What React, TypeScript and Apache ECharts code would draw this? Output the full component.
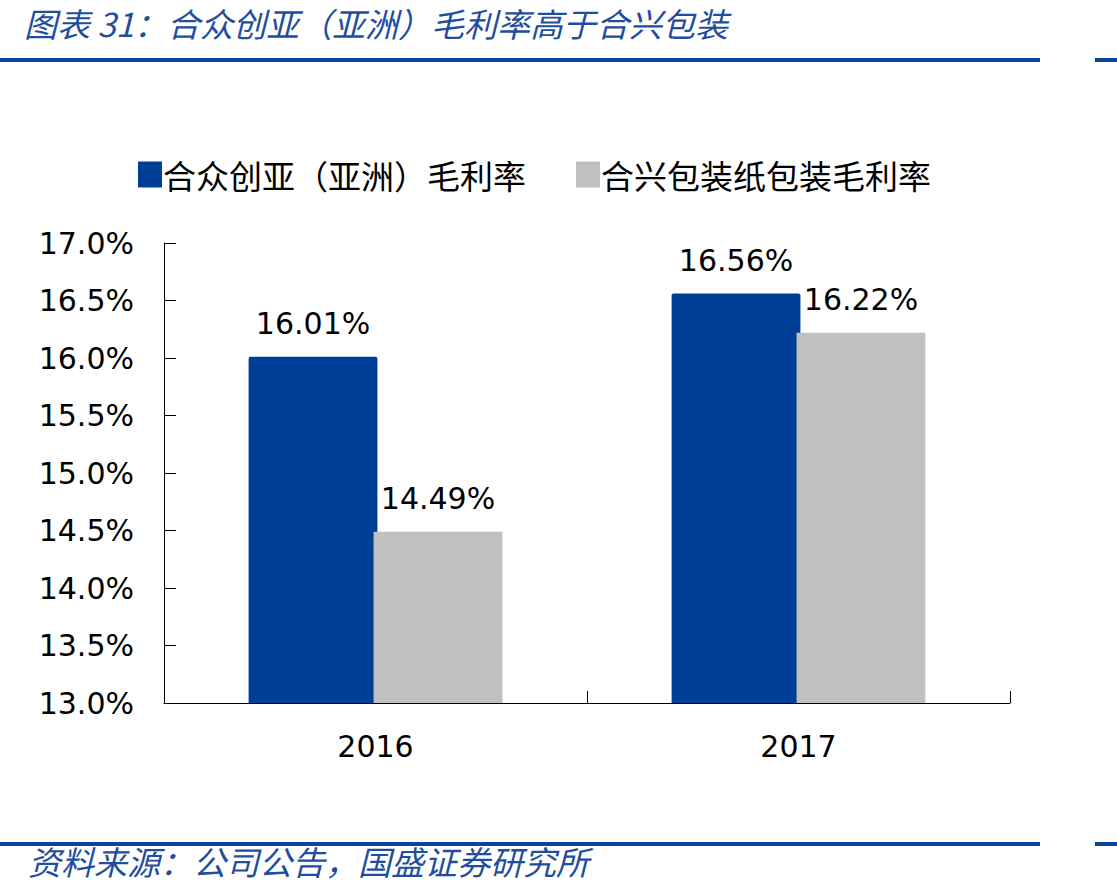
import React, { useEffect, useRef } from "react";
import * as echarts from "echarts";

const categories = ["2016", "2017"];
const seriesNames = ["合众创亚（亚洲）毛利率", "合兴包装纸包装毛利率"];
const heZhong = [16.01, 16.56];
const heXing = [14.49, 16.22];
const titleText = "图表 31：合众创亚（亚洲）毛利率高于合兴包装";
const sourceText = "资料来源：公司公告，国盛证券研究所";

const BLUE = "#003F98";
const GRAY = "#C0C0C0";
const DEEP = "#0B45A0";
const CJK = '"Noto Sans CJK SC", sans-serif';
const NUM = '"DejaVu Sans", Verdana, sans-serif';

export default function App() {
  const ref = useRef<HTMLDivElement>(null);
  useEffect(() => {
    if (!ref.current) return;
    const chart = echarts.init(ref.current, undefined, { renderer: "svg" });
    const label = {
      show: true,
      position: "top",
      distance: 18,
      fontSize: 30,
      fontFamily: NUM,
      color: "#000",
      formatter: (p: any) => p.value.toFixed(2) + "%",
    };
    chart.setOption({
      animation: false,
      backgroundColor: "#fff",
      graphic: [
        {
          type: "text",
          left: 24,
          top: 6,
          style: {
            text: titleText,
            font: `italic 33px ${CJK}`,
            fill: "#1F4E9F",
          },
        },
        { type: "rect", shape: { x: 0, y: 58, width: 1040, height: 4 }, style: { fill: DEEP } },
        { type: "rect", shape: { x: 1095, y: 58, width: 22, height: 4 }, style: { fill: DEEP } },
        { type: "rect", shape: { x: 0, y: 842, width: 1040, height: 4 }, style: { fill: DEEP } },
        { type: "rect", shape: { x: 1095, y: 842, width: 22, height: 4 }, style: { fill: DEEP } },
        {
          type: "text",
          left: 28,
          top: 844,
          style: {
            text: sourceText,
            font: `italic 33px ${CJK}`,
            fill: "#1F4E9F",
          },
        },
      ],
      legend: {
        left: 133,
        top: 153,
        itemWidth: 24,
        itemHeight: 26,
        itemGap: 50,
        icon: "rect",
        textStyle: { fontSize: 33, fontFamily: CJK, color: "#000", padding: [0, 0, 0, -4] },
        data: seriesNames,
      },
      grid: { left: 164, right: 107, top: 243, bottom: 192, containLabel: false },
      xAxis: {
        type: "category",
        data: categories,
        axisLine: { lineStyle: { color: "#000", width: 1 } },
        axisTick: { show: true, inside: true, length: 12, lineStyle: { color: "#000" } },
        axisLabel: { fontSize: 30, fontFamily: NUM, color: "#000", margin: 28 },
      },
      yAxis: {
        type: "value",
        min: 13,
        max: 17,
        interval: 0.5,
        splitLine: { show: false },
        axisLine: { show: true, lineStyle: { color: "#000", width: 1 } },
        axisTick: { show: true, inside: true, length: 12, lineStyle: { color: "#000" } },
        axisLabel: {
          fontSize: 30,
          fontFamily: NUM,
          color: "#000",
          margin: 30,
          formatter: (v: number) => v.toFixed(1) + "%",
        },
      },
      series: [
        {
          name: seriesNames[0],
          type: "bar",
          data: heZhong,
          barGap: "-3%",
          barCategoryGap: "40%",
          itemStyle: { color: BLUE, borderRadius: [2, 2, 0, 0] },
          label,
        },
        {
          name: seriesNames[1],
          type: "bar",
          data: heXing,
          itemStyle: { color: GRAY },
          label,
        },
      ],
    });
    return () => chart.dispose();
  }, []);
  return (
    <div
      ref={ref}
      style={{ position: "absolute", left: 0, top: 0, width: 1117, height: 895 }}
    />
  );
}
